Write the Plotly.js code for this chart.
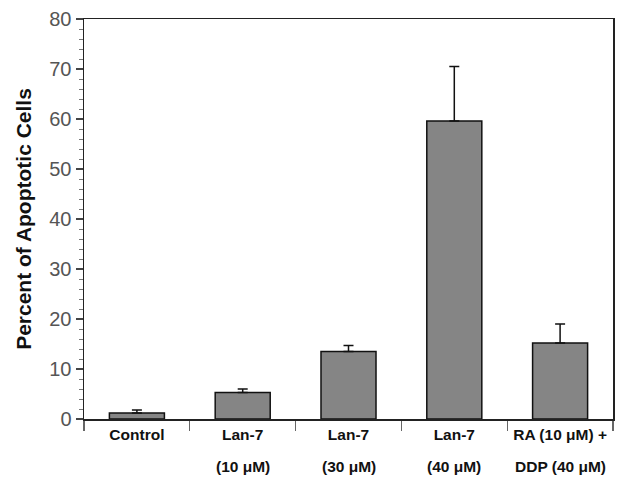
<!DOCTYPE html>
<html>
<head>
<meta charset="utf-8">
<script src="https://cdn.plot.ly/plotly-3.0.1.min.js"></script>
<style>html,body{margin:0;padding:0;background:#fff;}#chart{width:619px;height:485px;}</style>
</head>
<body>
<div id="chart"></div>
<script>
const categories = ["Control", "Lan-7 (10 μM)", "Lan-7 (30 μM)", "Lan-7 (40 μM)", "RA (10 μM) + DDP (40 μM)"];
const labelLine1 = ["Control", "Lan-7", "Lan-7", "Lan-7", "RA (10 μM) +"];
const labelLine2 = ["", "(10 μM)", "(30 μM)", "(40 μM)", "DDP (40 μM)"];
const values = [1.2, 5.3, 13.5, 59.6, 15.2];
const errorsUp = [0.6, 0.7, 1.2, 10.9, 3.8];
const yTickVals = [0, 10, 20, 30, 40, 50, 60, 70, 80];

const FONT = "Liberation Sans, Arial, sans-serif";

const trace = {
  type: "bar",
  x: categories,
  y: values,
  marker: {color: "#858585", line: {color: "#111", width: 1.5}},
  width: 0.52,
  error_y: {
    type: "data", symmetric: false,
    array: errorsUp,
    arrayminus: errorsUp.map(() => 0),
    color: "#111", thickness: 1.5, width: 5
  },
  hoverinfo: "none"
};

const annotations = categories.map((c, i) => ({
  x: c, xref: "x", y: -0.1175, yref: "paper",
  text: "<b>" + labelLine2[i] + "</b>", showarrow: false,
  xanchor: "center", yanchor: "middle",
  font: {family: FONT, size: 15.5, color: "#111"}
}));

const layout = {
  width: 619, height: 485,
  margin: {l: 84, r: 6, t: 19, b: 66},
  paper_bgcolor: "#fff", plot_bgcolor: "#fff",
  showlegend: false,
  xaxis: {
    type: "category",
    tickmode: "array", tickvals: categories,
    ticktext: labelLine1.map(s => "<b>" + s + "</b>"),
    tickangle: 0,
    tickson: "boundaries",
    ticks: "outside", ticklen: 10, tickwidth: 1.2, tickcolor: "#666",
    showline: true, linecolor: "#222", linewidth: 1.5, mirror: true,
    showgrid: false, zeroline: false,
    tickfont: {family: FONT, size: 15.5, color: "#111"},
    ticklabelstandoff: 1
  },
  yaxis: {
    range: [0, 80],
    tickmode: "array", tickvals: yTickVals,
    ticks: "outside", ticklen: 7, tickwidth: 1.2, tickcolor: "#444",
    minor: {dtick: 2, ticks: "outside", ticklen: 4, tickwidth: 1, tickcolor: "#777", showgrid: false},
    showline: true, linecolor: "#222", linewidth: 1.5, mirror: true,
    showgrid: false, zeroline: false,
    tickfont: {family: FONT, size: 20, color: "#555"},
    title: {text: "<b>Percent of Apoptotic Cells</b>", standoff: 12,
      font: {family: FONT, size: 21, color: "#111"}}
  },
  annotations: annotations
};

Plotly.newPlot("chart", [trace], layout, {displayModeBar: false, staticPlot: true});
</script>
</body>
</html>
